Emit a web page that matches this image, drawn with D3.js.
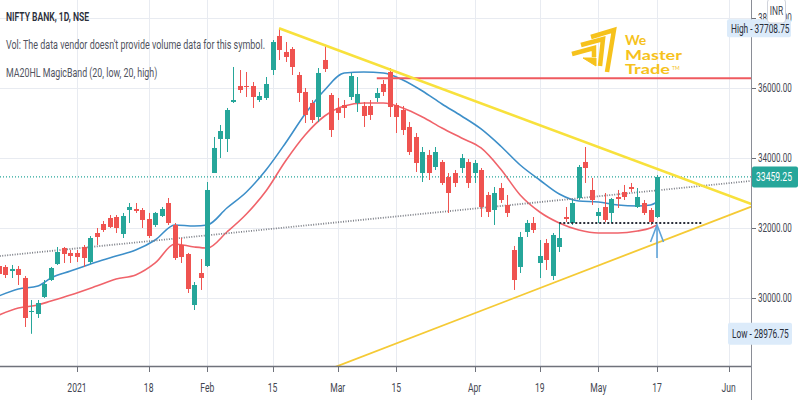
<!DOCTYPE html>
<html>
<head>
<meta charset="utf-8">
<script src="https://cdn.jsdelivr.net/npm/d3@7"></script>
<style>
  body { margin: 0; background: #fff; }
  svg { display: block; font-family: Roboto, "Noto Sans", sans-serif; }
</style>
</head>
<body>
<div id="chart"></div>
<script>
// NIFTY BANK daily candles
var dates = [
  "2020-12-15","2020-12-16","2020-12-17","2020-12-18","2020-12-21","2020-12-22","2020-12-23","2020-12-24","2020-12-28","2020-12-29","2020-12-30","2020-12-31",
  "2021-01-01","2021-01-04","2021-01-05","2021-01-06","2021-01-07","2021-01-08","2021-01-11","2021-01-12","2021-01-13","2021-01-14","2021-01-15","2021-01-18","2021-01-19","2021-01-20","2021-01-21","2021-01-22","2021-01-25","2021-01-27","2021-01-28","2021-01-29",
  "2021-02-01","2021-02-02","2021-02-03","2021-02-04","2021-02-05","2021-02-08","2021-02-09","2021-02-10","2021-02-11","2021-02-12","2021-02-15","2021-02-16","2021-02-17","2021-02-18","2021-02-19","2021-02-22","2021-02-23","2021-02-24","2021-02-25","2021-02-26",
  "2021-03-01","2021-03-02","2021-03-03","2021-03-04","2021-03-05","2021-03-08","2021-03-09","2021-03-10","2021-03-12","2021-03-15","2021-03-16","2021-03-17","2021-03-18","2021-03-19","2021-03-22","2021-03-23","2021-03-24","2021-03-25","2021-03-26","2021-03-30","2021-03-31",
  "2021-04-01","2021-04-05","2021-04-06","2021-04-07","2021-04-08","2021-04-09","2021-04-12","2021-04-13","2021-04-15","2021-04-16","2021-04-19","2021-04-20","2021-04-22","2021-04-23","2021-04-26","2021-04-27","2021-04-28","2021-04-29","2021-04-30",
  "2021-05-03","2021-05-04","2021-05-05","2021-05-06","2021-05-07","2021-05-10","2021-05-11","2021-05-12","2021-05-14","2021-05-17"
];
var opens = [
  30914,30886,30771,30829,30572,29600,29543,30029,30514,30971,31429,31286,
  31286,31457,31029,31857,32114,32286,32314,31829,32514,32543,32514,32257,32086,32343,32714,32086,31514,31257,29800,30714,
  30914,33571,34543,34543,35600,36057,36057,36057,35657,35714,36514,37486,37029,37114,36371,35886,35571,35171,36800,35800,
  35429,35514,35743,35571,35486,35486,35714,36114,36457,35514,35371,34886,34600,33571,34086,33743,33886,33457,33571,33714,33886,
  33571,33657,32943,32514,33143,32657,31371,30886,31886,32143,31000,31571,30629,31457,32314,32143,32857,33886,33086,
  32343,32600,32429,32886,33029,33171,32600,32714,32514,32314
];
var highs = [
  31029,30943,30943,30914,30629,29943,29943,30514,30886,31457,31457,31371,
  31371,31514,31771,32000,32200,32371,32371,32429,32714,32714,32571,32429,32457,32600,32857,32143,31714,31286,30457,31114,
  33314,34600,34943,35429,36600,36514,36457,36171,35886,36314,37371,37708.75,37314,37171,36457,36000,35657,36571,37229,35857,
  35714,35657,36429,36314,35600,35657,36000,36229,36571,35571,35486,35029,34714,34314,34229,34314,33943,33571,33657,34114,33971,
  33943,33714,33029,33171,33286,32943,31486,31886,32229,32314,31657,31686,31857,32143,32600,32800,33800,34314,33429,
  32571,33000,32857,33086,33229,33286,33143,32800,32571,33514
];
var lows = [
  30600,30571,30571,30371,29172,28976.75,29429,30000,30486,30943,31000,31000,
  31029,30886,30971,31514,31886,32000,31857,31714,32143,32429,32000,31714,32029,32314,32086,31086,31000,30143,29657,30229,
  30886,33571,34000,34171,35571,35857,35743,35429,35600,35657,36371,36800,36743,36371,35600,35000,35000,35029,36457,34600,
  35086,35143,35657,35314,34886,35086,35600,35771,35171,34714,34657,34086,33600,33314,33371,33657,33229,32429,33171,33571,33143,
  33286,32314,32314,32086,32714,32314,30229,30714,31743,31857,30571,30800,30514,31314,32171,32086,32800,33286,32657,
  32143,32171,32143,32571,32800,33029,32571,32371,32086,32286
];
var closes = [
  30686,30657,30829,30657,29429,29629,29857,30400,30857,31314,31257,31200,
  31171,31143,31714,31743,31943,32029,32000,32343,32600,32486,32229,31771,32429,32543,32143,31143,31171,30257,30371,30571,
  33086,34286,34771,35371,35657,35943,36029,35743,35771,36114,37314,37086,36886,36600,35857,35229,35086,36429,36543,34800,
  35286,35429,36343,35829,35200,35229,35857,35886,35457,35171,34800,34171,33857,34171,33571,34171,33286,33000,33286,34000,33286,
  33857,32600,32457,33000,32800,32429,30514,31743,32143,31943,31200,31086,31800,31714,32257,32714,33743,33714,32800,
  32457,32229,32829,32829,32886,33114,32886,32429,32171,33459.25
];
// empty trading days to the right of the last bar
var futureDates = ["2021-05-18","2021-05-19","2021-05-20","2021-05-21","2021-05-24","2021-05-25","2021-05-26","2021-05-27","2021-05-28","2021-05-31","2021-06-01","2021-06-02","2021-06-03","2021-06-04","2021-06-07"];

// MA20HL MagicBand (20-day MA of highs and of lows)
var maDates = ["2020-12-15","2020-12-18","2020-12-23","2020-12-28","2020-12-31","2021-01-06","2021-01-11","2021-01-14","2021-01-19","2021-01-22","2021-01-28","2021-02-01","2021-02-04","2021-02-09","2021-02-12","2021-02-17","2021-02-22","2021-02-25","2021-03-02","2021-03-05","2021-03-10","2021-03-16","2021-03-19","2021-03-24","2021-03-30","2021-04-05","2021-04-08","2021-04-13","2021-04-19","2021-04-23","2021-04-28","2021-05-03","2021-05-06","2021-05-11","2021-05-14","2021-05-17"];
var maHigh = [30057,30257,30343,30571,30771,31029,31200,31371,31657,32086,32057,32086,32571,33029,33657,34429,35257,35943,36429,36457,36429,36229,35914,35543,35200,34829,34343,33800,33371,32971,32771,32743,32657,32629,32657,32743];
var maLow = [29514,29714,29800,29914,30086,30343,30543,30657,31000,31543,31457,31429,31886,32400,33057,33914,34657,35200,35486,35571,35571,35429,35171,34857,34571,34286,33686,32943,32457,32143,31943,31857,31857,31914,32000,32086];

var yTicks = [30000, 32000, 34000, 36000, 38000];
var xTickDates = ["2021-01-01","2021-01-18","2021-02-01","2021-02-15","2021-03-01","2021-03-15","2021-04-01","2021-04-19","2021-05-03","2021-05-17","2021-06-01"];
var xTickLabels = ["2021","18","Feb","15","Mar","15","Apr","19","May","17","Jun"];

var lastClose = 33459.25, highVal = 37708.75, lowVal = 28976.75;

// drawings on the chart: [date, price] anchors
var resistance = [["2021-02-16", 37708.75], ["2021-06-07", 32650]];
var support = [["2021-02-26", 27985], ["2021-06-07", 32650]];
var slopeLine = [["2020-12-14", 31177], ["2021-06-07", 33354]];
var levelLine = [["2021-03-09", 36280], ["2021-06-07", 36280]];
var baseLine = [["2021-04-23", 32143], ["2021-05-26", 32143]];
var arrowShaft = [["2021-05-17", 31143], ["2021-05-17", 32086]];
var arrowHead = [["2021-05-14", 31600], ["2021-05-17", 32086], ["2021-05-18", 31600]];

var W = 800, H = 400, plotW = 751, plotH = 366;
var green = "#26a69a", red = "#ef5350";

var allDates = ["2020-12-14"].concat(dates, futureDates);
var idx = {};
allDates.forEach(function (d, i) { idx[d] = i; });

var candles = dates.map(function (d, i) {
  return {date: d, o: opens[i], h: highs[i], l: lows[i], c: closes[i]};
});

// visible bar range and price range
var x = d3.scaleLinear().domain([1.185, 116.42]).range([0, plotW]);
var y = d3.scaleLinear().domain([28057, 38514]).range([plotH, 0]);
var xd = function (d) { return x(idx[d]); };

// narrow text: draw at the origin, then move and scale it horizontally
function narrowText(parent, tx, ty, k, str, anchor) {
  return parent.append("text")
    .attr("transform", "translate(" + tx + "," + ty + ") scale(" + k + ",1)")
    .attr("text-anchor", anchor || "start")
    .text(str);
}

var svg = d3.select("#chart").append("svg")
  .attr("width", W)
  .attr("height", H);

svg.append("defs").append("clipPath").attr("id", "plot")
  .append("rect").attr("width", plotW).attr("height", plotH);

// grid
svg.append("g").selectAll("line").data(xTickDates).enter().append("line")
  .attr("x1", function (d) { return Math.round(xd(d)) + 0.5; })
  .attr("x2", function (d) { return Math.round(xd(d)) + 0.5; })
  .attr("y1", 0).attr("y2", plotH)
  .attr("stroke", "#e8ebf1");
svg.append("g").selectAll("line").data(yTicks).enter().append("line")
  .attr("x1", 0).attr("x2", plotW)
  .attr("y1", function (d) { return Math.round(y(d)) + 0.5; })
  .attr("y2", function (d) { return Math.round(y(d)) + 0.5; })
  .attr("stroke", "#e8ebf1");

var plot = svg.append("g").attr("clip-path", "url(#plot)");

// header text
var head = svg.append("g").attr("fill", "#50535e").attr("font-size", 13);
narrowText(head, 6, 21, 0.66, "NIFTY BANK, 1D, NSE").attr("fill", "#2a2e39").attr("font-weight", 600);
narrowText(head, 6, 49, 0.69, "Vol: The data vendor doesn't provide volume data for this symbol.");
narrowText(head, 6, 77, 0.68, "MA20HL MagicBand (20, low, 20, high)");

// logo
var logo = svg.append("g").attr("fill", "none").attr("stroke", "#f6c21c")
  .attr("stroke-width", 4.5).attr("stroke-linejoin", "miter");
logo.append("path").attr("d", "M591,37 L614,30 L607,72");
logo.append("path").attr("d", "M581,45 L603,39 L600,66");
logo.append("path").attr("d", "M572,54 L594,48 L594,57");
logo.append("path").attr("d", "M583,58 L596,58 L596,66 Z").attr("fill", "#f6c21c").attr("stroke-width", 1);
var logoText = svg.append("g").attr("fill", "#f6c21c").attr("font-family", "Lato, Roboto, sans-serif")
  .attr("font-weight", 700).attr("font-size", 14);
logoText.append("text").attr("x", 625).attr("y", 45).text("We");
logoText.append("text").attr("x", 625).attr("y", 60).attr("textLength", 57).attr("lengthAdjust", "spacingAndGlyphs").text("Master");
logoText.append("text").attr("x", 625).attr("y", 74).attr("textLength", 45).attr("lengthAdjust", "spacingAndGlyphs").text("Trade");
logoText.append("text").attr("x", 672).attr("y", 70).attr("font-size", 5).attr("font-weight", 400).text("TM");

// moving-average band
var maLine = d3.line()
  .x(function (d) { return xd(d[0]); })
  .y(function (d) { return y(d[1]); })
  .curve(d3.curveMonotoneX);
plot.append("path").datum(maDates.map(function (d, i) { return [d, maLow[i]]; }))
  .attr("d", maLine).attr("fill", "none").attr("stroke", "#f0636a").attr("stroke-width", 1.6);
plot.append("path").datum(maDates.map(function (d, i) { return [d, maHigh[i]]; }))
  .attr("d", maLine).attr("fill", "none").attr("stroke", "#3d8fc9").attr("stroke-width", 1.6);

var seg = d3.line()
  .x(function (d) { return xd(d[0]); })
  .y(function (d) { return y(d[1]); });

// slope line and last price line (dotted)
plot.append("path").datum(slopeLine).attr("d", seg).attr("fill", "none")
  .attr("stroke", "#7b7e86").attr("stroke-width", 1.8).attr("stroke-dasharray", "1,1.5");
plot.append("line").attr("x1", 0).attr("x2", plotW)
  .attr("y1", y(lastClose)).attr("y2", y(lastClose))
  .attr("stroke", green).attr("stroke-width", 1.2).attr("stroke-dasharray", "1,2");

// candles
var cg = plot.append("g").selectAll("g").data(candles).enter().append("g");
cg.append("line")
  .attr("x1", function (d) { return Math.round(xd(d.date)) + 0.5; })
  .attr("x2", function (d) { return Math.round(xd(d.date)) + 0.5; })
  .attr("y1", function (d) { return y(d.h); })
  .attr("y2", function (d) { return y(d.l); })
  .attr("stroke", function (d) { return d.c >= d.o ? green : red; });
cg.append("rect")
  .attr("x", function (d) { return Math.round(xd(d.date)) - 2; })
  .attr("width", 5)
  .attr("y", function (d) { return y(Math.max(d.o, d.c)); })
  .attr("height", function (d) { return Math.max(1, Math.abs(y(d.o) - y(d.c))); })
  .attr("fill", function (d) { return d.c >= d.o ? green : red; });

// drawings
plot.append("path").datum(levelLine).attr("d", seg).attr("fill", "none")
  .attr("stroke", "#ef5a5f").attr("stroke-width", 2);
plot.append("path").datum(resistance).attr("d", seg).attr("fill", "none")
  .attr("stroke", "#f8e13c").attr("stroke-width", 2.6);
plot.append("path").datum(support).attr("d", seg).attr("fill", "none")
  .attr("stroke", "#f5ca35").attr("stroke-width", 1.8);
plot.append("path").datum(baseLine).attr("d", seg).attr("fill", "none")
  .attr("stroke", "#2a2e39").attr("stroke-width", 2).attr("stroke-dasharray", "2,2");
plot.append("path").datum(arrowShaft).attr("d", seg).attr("fill", "none")
  .attr("stroke", "#5ea3d8").attr("stroke-width", 1.6);
plot.append("path").datum(arrowHead).attr("d", seg).attr("fill", "none")
  .attr("stroke", "#5ea3d8").attr("stroke-width", 1.6);

// axes
svg.append("line").attr("x1", plotW + 0.5).attr("x2", plotW + 0.5).attr("y1", 0).attr("y2", H)
  .attr("stroke", "#8a8d96");
svg.append("line").attr("x1", 0).attr("x2", plotW).attr("y1", plotH + 0.5).attr("y2", plotH + 0.5)
  .attr("stroke", "#6f727b").attr("stroke-width", 1.5);

var xa = svg.append("g").attr("fill", "#434651").attr("font-size", 13);
xa.selectAll("line").data(xTickDates).enter().append("line")
  .attr("x1", function (d) { return Math.round(xd(d)) + 0.5; })
  .attr("x2", function (d) { return Math.round(xd(d)) + 0.5; })
  .attr("y1", plotH + 1).attr("y2", plotH + 6).attr("stroke", "#6f727b");
xTickDates.forEach(function (d, i) {
  narrowText(xa, xd(d), plotH + 26, 0.66, xTickLabels[i], "middle");
});

var ya = svg.append("g").attr("fill", "#434651").attr("font-size", 13);
ya.selectAll("line").data(yTicks).enter().append("line")
  .attr("x1", plotW + 1).attr("x2", plotW + 5)
  .attr("y1", function (d) { return Math.round(y(d)) + 0.5; })
  .attr("y2", function (d) { return Math.round(y(d)) + 0.5; })
  .attr("stroke", "#6f727b");
yTicks.forEach(function (d) {
  narrowText(ya, plotW + 7, y(d) + 4.5, 0.62, d3.format(".2f")(d));
});

// price badges
function badge(val, label, x0, w, h, fill, color, k) {
  var g = svg.append("g").attr("font-size", 13).attr("fill", color);
  g.append("rect").attr("x", x0).attr("y", y(val) - h / 2).attr("width", w).attr("height", h)
    .attr("rx", 2).attr("fill", fill);
  narrowText(g, x0 + 4, y(val) + 4.5, k, label);
}
badge(highVal, "High - " + d3.format(".2f")(highVal), 727, 64, 18, "#dcebfa", "#2a2e39", 0.64);
badge(lowVal, "Low - " + d3.format(".2f")(lowVal), 728, 64, 22, "#dcebfa", "#2a2e39", 0.64);
badge(lastClose, d3.format(".2f")(lastClose), plotW + 1, 46, 21, green, "#ffffff", 0.66);

// currency box
var cur = svg.append("g").attr("font-size", 12).attr("fill", "#434651");
cur.append("rect").attr("x", 767.5).attr("y", -1).attr("width", 18).attr("height", 24)
  .attr("rx", 3).attr("fill", "#ffffff").attr("stroke", "#d1d4dc");
narrowText(cur, 776.5, 15, 0.7, "INR", "middle");
</script>
</body>
</html>
